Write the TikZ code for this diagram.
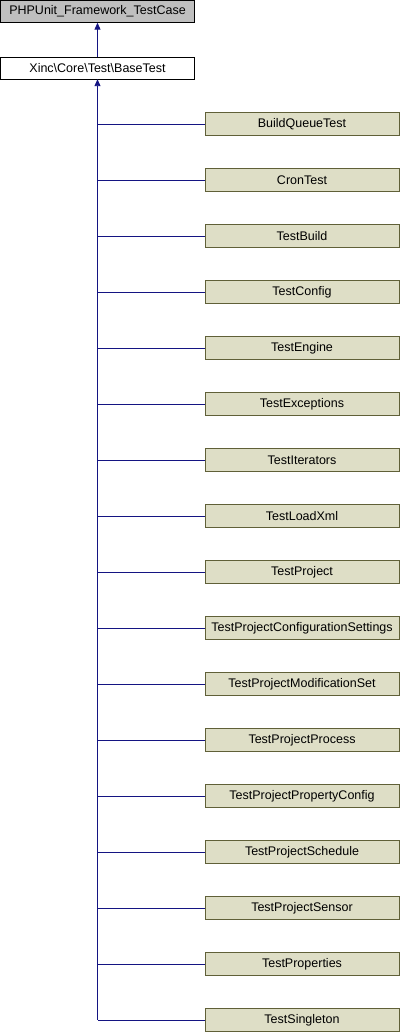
\documentclass[tikz,border=0pt]{standalone}
\usepackage{fontspec}
\setmainfont{Liberation Sans}
\usepackage{xcolor}
\usetikzlibrary{arrows.meta,positioning,calc}

\definecolor{basegray}{RGB}{191,191,191}
\definecolor{testfill}{RGB}{222,222,198}
\definecolor{testline}{RGB}{96,96,56}
\definecolor{edgeblue}{RGB}{20,20,130}

\tikzset{
  classbox/.style={draw=black, fill=white, minimum width=194pt, minimum height=22pt,
    inner sep=0pt, font=\fontsize{12.5}{13}\selectfont},
  rootbox/.style={classbox, fill=basegray},
  testbox/.style={classbox, draw=testline, fill=testfill, minimum height=23pt},
  inherit/.style={edgeblue, line width=0.9pt, -{Triangle[width=6pt,length=7pt]}},
  branch/.style={edgeblue, line width=0.9pt}
}

\begin{document}
\begin{tikzpicture}[x=1pt, y=-1pt]
        \useasboundingbox (0,0) rectangle (400,1032);

        % Base classes
        \node[rootbox] (phpunit) at (97.5,11.5) {PHPUnit\_Framework\_TestCase};
        \node[classbox] (basetest) at (97.5,68) {Xinc\textbackslash Core\textbackslash Test\textbackslash BaseTest};
        \draw[inherit] (basetest.north) -- (phpunit.south);

        % Test classes
        \foreach \name [count=\i] in {BuildQueueTest, CronTest, TestBuild, TestConfig, TestEngine,
            TestExceptions, TestIterators, TestLoadXml, TestProject,
            TestProjectConfigurationSettings, TestProjectModificationSet,
            TestProjectProcess, TestProjectPropertyConfig, TestProjectSchedule,
            TestProjectSensor, TestProperties, TestSingleton} {
          \pgfmathsetmacro{\ypos}{124+56*(\i-1)}
          \node[testbox] (test\i) at (302,\ypos) {\name};
          \draw[branch] (test\i.west) -- (test\i.west -| basetest.south);
        }

        % Trunk
        \draw[inherit] (test17.west -| basetest.south) -- (basetest.south);
      \end{tikzpicture}
\end{document}
